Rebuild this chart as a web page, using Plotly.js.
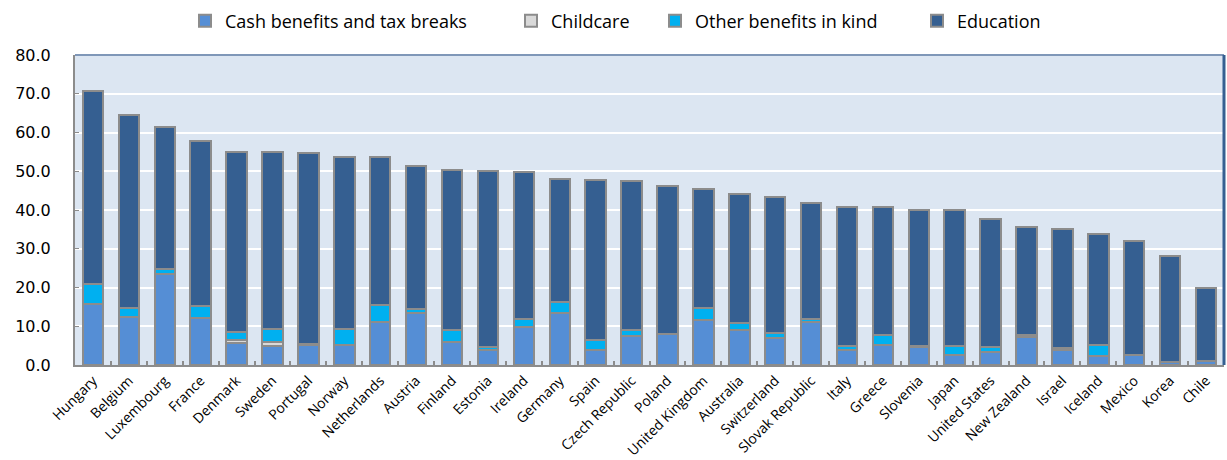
<!DOCTYPE html>
<html>
<head>
<meta charset="utf-8">
<script src="https://cdn.plot.ly/plotly-3.0.1.min.js"></script>
<style>
  html, body { margin: 0; padding: 0; background: #ffffff; }
  #chart { width: 1227px; height: 460px; }
</style>
</head>
<body>
<div id="chart"></div>
<script>
const countries = ["Hungary","Belgium","Luxembourg","France","Denmark","Sweden","Portugal","Norway","Netherlands","Austria","Finland","Estonia","Ireland","Germany","Spain","Czech Republic","Poland","United Kingdom","Australia","Switzerland","Slovak Republic","Italy","Greece","Slovenia","Japan","United States","New Zealand","Israel","Iceland","Mexico","Korea","Chile"];

const cashBenefits = [15.7,12.5,23.6,12.1,5.7,5.0,5.1,5.2,11.2,13.5,5.9,4.0,9.8,13.5,4.0,7.5,8.0,11.6,9.1,7.0,11.2,4.0,5.2,4.6,2.7,3.4,7.2,4.0,2.4,2.5,0.8,1.0];
const childcare    = [0.0,0.0,0.0,0.0,0.8,0.9,0.0,0.0,0.0,0.0,0.0,0.0,0.0,0.0,0.0,0.0,0.0,0.0,0.0,0.0,0.0,0.0,0.0,0.0,0.0,0.0,0.0,0.0,0.0,0.0,0.0,0.0];
const otherInKind  = [5.2,2.1,1.3,3.2,2.1,3.5,0.4,4.1,4.4,0.9,3.2,0.6,2.0,2.8,2.5,1.6,0.1,3.2,1.7,1.2,0.6,0.8,2.6,0.2,2.3,1.2,0.6,0.4,2.8,0.1,0.1,0.1];
const education    = [49.7,49.9,36.6,42.6,46.3,45.5,49.2,44.3,38.1,37.0,41.2,45.4,37.9,31.7,41.2,38.3,38.2,30.7,33.4,35.2,30.0,36.1,33.1,35.1,34.9,33.0,27.9,30.6,28.6,29.5,27.2,18.9];

const seriesNames = ["Cash benefits and tax breaks","Childcare","Other benefits in kind","Education"];
const seriesColors = ["#558ed5","#d9d9d9","#00b0f0","#355f91"];
const seriesData = [cashBenefits, childcare, otherInKind, education];
const legendIds = ["legend","legend2","legend3","legend4"];
// text start pixel positions of legend entries in the reference
const legendTextX = [225, 551, 695, 957];

const traces = seriesData.map((vals, i) => ({
  type: "bar",
  name: seriesNames[i],
  legend: legendIds[i],
  x: countries,
  y: vals,
  marker: { color: seriesColors[i], line: { color: "#8c8c8c", width: 2 } },
  width: 0.57,
  hoverinfo: "x+y+name"
}));

const W = 1227;
const layout = {
  width: W,
  height: 460,
  barmode: "stack",
  paper_bgcolor: "#ffffff",
  plot_bgcolor: "#dce6f2",
  margin: { l: 75, r: 3, t: 55, b: 95 },
  font: { family: "Open Sans, Liberation Sans, sans-serif", color: "#000000" },
  showlegend: true,
  xaxis: {
    type: "category",
    tickangle: -45,
    tickfont: { size: 14, family: "Open Sans, Liberation Sans, sans-serif" },
    showline: true, linecolor: "#8c8c8c", linewidth: 2,
    ticks: "inside", ticklen: 4, tickcolor: "#8c8c8c", tickwidth: 2,
    tickson: "boundaries",
    showgrid: false,
    automargin: false
  },
  yaxis: {
    range: [0, 80],
    dtick: 10,
    tickformat: ".1f",
    tickfont: { size: 16, family: "DejaVu Sans, Verdana, sans-serif" },
    showline: true, linecolor: "#8c8c8c", linewidth: 2,
    ticks: "inside", ticklen: 4, tickcolor: "#8c8c8c",
    showgrid: true, gridcolor: "#ffffff", gridwidth: 2,
    zeroline: false,
    automargin: false,
    ticklabelstandoff: 19
  },
  shapes: [
    { type: "line", xref: "paper", yref: "paper", x0: 0, x1: 1, y0: 1, y1: 1, line: { color: "#7f97b8", width: 2 } },
    { type: "line", xref: "paper", yref: "paper", x0: 1, x1: 1, y0: 0, y1: 1, line: { color: "#355f91", width: 3 } }
  ]
};

legendIds.forEach((id, i) => {
  layout[id] = {
    orientation: "h",
    xref: "container", yref: "container",
    x: (legendTextX[i] - 40) / W, xanchor: "left",
    y: 0.954, yanchor: "middle",
    font: { size: 18, family: "Open Sans, Liberation Sans, sans-serif" },
    itemwidth: 30,
    bgcolor: "rgba(0,0,0,0)"
  };
});

Plotly.newPlot("chart", traces, layout, { displayModeBar: false, staticPlot: true });
</script>
</body>
</html>
